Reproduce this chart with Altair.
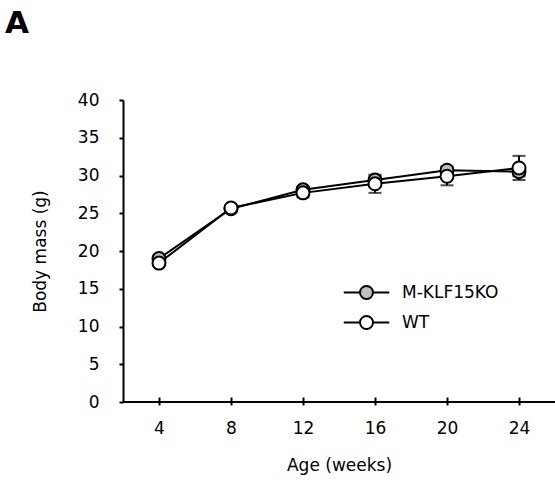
import altair as alt
import pandas as pd

weeks = [4, 8, 12, 16, 20, 24]
ko_mean = [19.0, 25.6, 28.1, 29.4, 30.7, 30.5]
ko_sem = [0.3, 0.3, 0.4, 0.5, 0.5, 0.6]
wt_mean = [18.4, 25.7, 27.7, 28.9, 29.9, 31.0]
wt_sem = [0.3, 0.4, 0.6, 1.2, 1.2, 1.6]
groups = ["M-KLF15KO", "WT"]
fills = ["#bfbfbf", "#ffffff"]
x_ticks = [4, 8, 12, 16, 20, 24]
y_ticks = [0, 5, 10, 15, 20, 25, 30, 35, 40]

rows = []
for g, means, sems in [(groups[0], ko_mean, ko_sem), (groups[1], wt_mean, wt_sem)]:
    for w, m, s in zip(weeks, means, sems):
        rows.append({"week": w, "mass": m, "sem": s, "group": g})
df = pd.DataFrame(rows)

FONT = "DejaVu Sans"
FS = 17
PLOT_W, PLOT_H = 432, 302

common = dict(labelFontSize=FS, labelFont=FONT, labelColor="black",
              titleFontSize=FS, titleFont=FONT, titleColor="black",
              titleFontWeight="normal", grid=False, labelOverlap=False)

x_axis = alt.Axis(values=x_ticks, title="Age (weeks)", domain=False, offset=-5,
                  tickSize=8, tickWidth=2, tickColor="black", labelPadding=15,
                  titlePadding=21, **common)
y_axis = alt.Axis(values=y_ticks, title="Body mass (g)", tickSize=4, tickWidth=2,
                  tickColor="black", domainColor="black", domainWidth=2,
                  labelPadding=20, titlePadding=28, **common)
x_scale = alt.Scale(domain=[2, 26], nice=False, zero=False)
y_scale = alt.Scale(domain=[0, 40], nice=False)

x = alt.X("week:Q", scale=x_scale, axis=x_axis)


def yy(field):
    return alt.Y(field, scale=y_scale, axis=y_axis)


base = alt.Chart(df).transform_calculate(lo="datum.mass - datum.sem",
                                         hi="datum.mass + datum.sem")

err = base.mark_rule(color="black", strokeWidth=2).encode(
    x=x, y=yy("lo:Q"), y2="hi:Q")
cap_hi = base.mark_tick(color="black", thickness=2, size=13, orient="horizontal").encode(
    x=x, y=yy("hi:Q"))
cap_lo = base.mark_tick(color="black", thickness=2, size=13, orient="horizontal").encode(
    x=x, y=yy("lo:Q"))

lines = base.mark_line(color="black", strokeWidth=2).encode(
    x=x, y=yy("mass:Q"), detail="group:N")

symbol_path = "M-3.5,0L-1,0M1,0L3.5,0M-1,0A1,1 0 1,0 1,0A1,1 0 1,0 -1,0Z"
points = base.mark_circle(size=169, stroke="black", strokeWidth=2, opacity=1).encode(
    x=x, y=yy("mass:Q"),
    fill=alt.Fill("group:N", scale=alt.Scale(domain=groups, range=fills),
                  legend=alt.Legend(title=None, orient="none", legendX=235, legendY=184,
                                    symbolType=symbol_path, symbolSize=169,
                                    symbolStrokeColor="black", symbolStrokeWidth=2,
                                    labelFontSize=FS, labelFont=FONT, labelColor="black",
                                    labelOffset=27, rowPadding=9, padding=0)),
    order=alt.Order("group:N"))

xline = alt.Chart(pd.DataFrame({"a": [0]})).mark_rule(color="black", strokeWidth=2).encode(
    x=alt.value(0), x2=alt.value(PLOT_W), y=alt.value(PLOT_H))

label = alt.Chart(pd.DataFrame({"t": ["A"]})).mark_text(
    align="left", baseline="alphabetic", fontSize=31, fontWeight="bold", font=FONT,
    color="black").encode(text="t:N", x=alt.value(-118), y=alt.value(-67))

chart = alt.layer(err, cap_hi, cap_lo, lines, points, xline, label).properties(
    width=PLOT_W, height=PLOT_H,
    autosize=alt.AutoSizeParams(type="none"),
    padding={"left": 123, "top": 100, "right": 0, "bottom": 83},
    background="white",
).configure_view(stroke=None)

chart.save("out.html", embed_options={"renderer": "svg", "actions": False})
